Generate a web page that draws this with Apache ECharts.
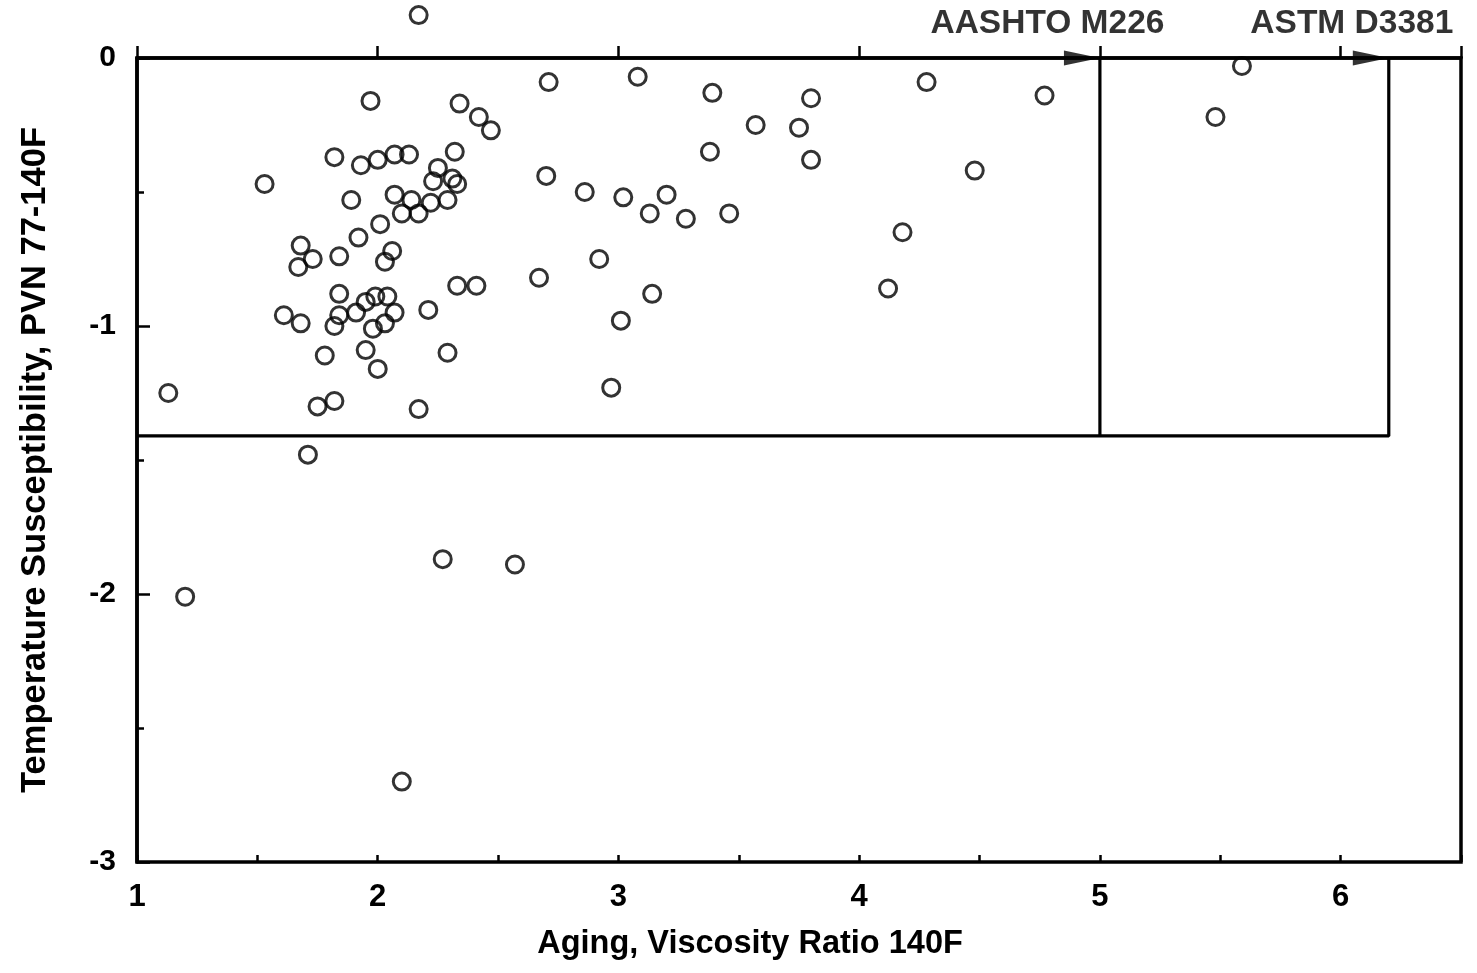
<!DOCTYPE html>
<html>
<head>
<meta charset="utf-8">
<script src="https://cdn.jsdelivr.net/npm/echarts@6/dist/echarts.min.js"></script>
<style>
html,body{margin:0;padding:0;background:#fff;}
#chart{width:1477px;height:973px;}
</style>
</head>
<body>
<div id="chart"></div>
<script>
// Aging, viscosity ratio at 140F (x) and PVN 77-140F (y)
const agingRatio = [
  2.17, 1.97, 2.34, 2.42, 2.47, 2.71, 1.82, 1.93, 2.00, 2.07,
  2.13, 2.32, 2.25, 1.53, 2.23, 2.31, 2.33, 2.70, 1.89, 2.07,
  2.14, 2.22, 2.29, 2.10, 2.17, 2.01, 1.92, 1.68, 1.73, 1.67,
  1.84, 2.06, 2.03, 1.84, 2.33, 2.41, 2.67, 1.61, 1.68, 1.84,
  1.91, 1.95, 1.99, 2.04, 2.07, 2.03, 1.98, 1.82, 2.21, 1.13,
  1.78, 1.95, 2.00, 2.29, 1.75, 1.82, 2.17, 3.08, 3.39, 3.80,
  4.28, 3.57, 3.75, 3.38, 3.80, 2.86, 3.02, 3.20, 3.13, 3.28,
  3.46, 4.18, 2.92, 4.12, 3.14, 3.01, 2.97, 4.77, 4.48, 5.59,
  5.48, 1.71, 1.20, 2.27, 2.57, 2.10
];
const pvnValues = [
  0.16, -0.16, -0.17, -0.22, -0.27, -0.09, -0.37, -0.40, -0.38, -0.36,
  -0.36, -0.35, -0.41, -0.47, -0.46, -0.45, -0.47, -0.44, -0.53, -0.51,
  -0.53, -0.54, -0.53, -0.58, -0.58, -0.62, -0.67, -0.70, -0.75, -0.78,
  -0.74, -0.72, -0.76, -0.88, -0.85, -0.85, -0.82, -0.96, -0.99, -0.96,
  -0.95, -0.91, -0.89, -0.89, -0.95, -0.99, -1.01, -1.00, -0.94, -1.25,
  -1.11, -1.09, -1.16, -1.10, -1.30, -1.28, -1.31, -0.07, -0.13, -0.15,
  -0.09, -0.25, -0.26, -0.35, -0.38, -0.50, -0.52, -0.51, -0.58, -0.60,
  -0.58, -0.65, -0.75, -0.86, -0.88, -0.98, -1.23, -0.14, -0.42, -0.03,
  -0.22, -1.48, -2.01, -1.87, -1.89, -2.70
];
// Specification limits
const specNames = ['AASHTO M226', 'ASTM D3381'];
const specAgingLimits = [5, 6.2];
const specPvnLimit = -1.41;
const specPvnTop = 0;

// Axis settings
const xMin = 1, xMax = 6.5, xMajor = 1, xMinor = 0.5;
const yMin = -3, yMax = 0, yMajor = 1;

const FONT = "'Liberation Sans', Arial, Helvetica, sans-serif";
const points = agingRatio.map((x, i) => [x, pvnValues[i]]);

const outerLine = [[xMin, specPvnLimit], [specAgingLimits[1], specPvnLimit], [specAgingLimits[1], specPvnTop]];
const innerLine = [[specAgingLimits[0], specPvnLimit], [specAgingLimits[0], specPvnTop]];
const arrowPts = specAgingLimits.map((x, i) => ({ value: [x, specPvnTop], name: specNames[i] }));

const chart = echarts.init(document.getElementById('chart'), null, { renderer: 'canvas' });
chart.setOption({
  animation: false,
  backgroundColor: '#fff',
  grid: {
    left: 137, right: 16, top: 58, bottom: 111,
    show: true, borderColor: '#000', borderWidth: 3.5, backgroundColor: 'transparent'
  },
  xAxis: [
    {
      type: 'value', min: xMin, max: xMax, interval: xMajor, position: 'bottom',
      axisLine: { show: true, lineStyle: { color: '#000', width: 3.5 } },
      axisTick: { show: true, inside: true, length: 12, lineStyle: { color: '#000', width: 2.5 } },
      axisLabel: {
        show: true, color: '#000', fontFamily: FONT, fontWeight: 'bold', fontSize: 31, margin: 20,
        formatter: v => (Number.isInteger(v) ? String(v) : '')
      },
      splitLine: { show: false },
      name: 'Aging, Viscosity Ratio 140F', nameLocation: 'middle', nameGap: 66,
      nameTextStyle: {
        color: '#000', fontFamily: FONT, fontWeight: 'bold', fontSize: 32.5,
        padding: [0, 98, 0, 0]
      }
    },
    {
      type: 'value', min: xMin, max: xMax, interval: xMinor, position: 'bottom', offset: 0,
      axisLine: { show: false },
      axisTick: { show: true, inside: true, length: 7, lineStyle: { color: '#000', width: 2.5 } },
      axisLabel: { show: false },
      splitLine: { show: false }
    }
  ],
  yAxis: {
    type: 'value', min: yMin, max: yMax, interval: yMajor,
    axisLine: { show: true, lineStyle: { color: '#000', width: 3.5 } },
    axisTick: { show: true, inside: true, length: 13, lineStyle: { color: '#000', width: 2.5 } },
    minorTick: { show: true, splitNumber: 2, length: 7, lineStyle: { color: '#000', width: 2.5 } },
    axisLabel: { color: '#000', fontFamily: FONT, fontWeight: 'bold', fontSize: 30, margin: 21 },
    splitLine: { show: false },
    name: 'Temperature Susceptibility, PVN 77-140F', nameLocation: 'middle', nameGap: 84,
    nameTextStyle: { color: '#000', fontFamily: FONT, fontWeight: 'bold', fontSize: 34.5 }
  },
  series: [
    {
      type: 'line', data: outerLine, symbol: 'none', clip: false,
      lineStyle: { color: '#000', width: 3.2 }, z: 3
    },
    {
      type: 'line', data: innerLine, symbol: 'none', clip: false,
      lineStyle: { color: '#000', width: 3.2 }, z: 3
    },
    {
      type: 'scatter', data: arrowPts, clip: false,
      symbol: 'path://M0,0L10,5L0,10Z', symbolSize: [36, 15], symbolOffset: [-18, 0],
      itemStyle: { color: '#000' }, z: 4, silent: true
    },
    {
      type: 'scatter', data: arrowPts, clip: false,
      symbol: 'circle', symbolSize: 1, itemStyle: { color: 'rgba(0,0,0,0)' }, z: 4, silent: true,
      label: {
        show: true, position: [65, -17], align: 'right', verticalAlign: 'bottom',
        formatter: p => p.name,
        color: '#000', fontFamily: FONT, fontWeight: 'bold', fontSize: 33.5
      }
    },
    {
      type: 'scatter', data: points, clip: false,
      symbol: 'circle', symbolSize: 17,
      itemStyle: { color: 'rgba(0,0,0,0)', borderColor: '#000', borderWidth: 3 },
      z: 5
    }
  ]
});
</script>
</body>
</html>
